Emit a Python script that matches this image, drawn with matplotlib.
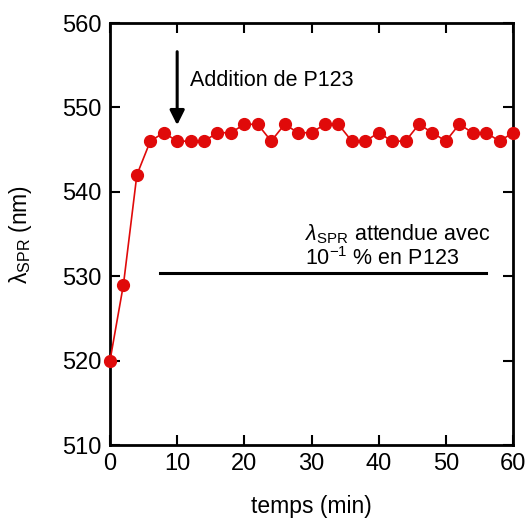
import numpy as np
import matplotlib.pyplot as plt

plt.rcParams['font.family'] = ['Liberation Sans', 'DejaVu Sans']
plt.rcParams['mathtext.fontset'] = 'custom'
plt.rcParams['mathtext.rm'] = 'Liberation Sans'
plt.rcParams['mathtext.it'] = 'Liberation Sans:italic'

temps = np.arange(0, 61, 2)
lambda_spr = [520, 529, 542, 546, 547, 546, 546, 546, 547, 547, 548,
              548, 546, 548, 547, 547, 548, 548, 546, 546, 547, 546,
              546, 548, 547, 546, 548, 547, 547, 546, 547]

ref_x = [7.4, 56]
ref_y = 530.4

fig = plt.figure(figsize=(5.26, 5.19), dpi=100)
ax = fig.add_axes([110 / 526, 1 - 445 / 519, 403 / 526, 422 / 519])

ax.plot(temps, lambda_spr, color='#e00a0a', lw=1.2, marker='o', ms=8.5,
        clip_on=False, zorder=3)
ax.plot(ref_x, [ref_y, ref_y], color='black', lw=2.2)

ax.annotate('', xy=(10, 547.9), xytext=(10, 556.6),
            arrowprops=dict(arrowstyle='-|>', color='black', lw=2.2,
                            mutation_scale=22, shrinkA=0, shrinkB=0))
ax.text(11.9, 553.2, 'Addition de P123', fontsize=15.5, va='center', ha='left')
ax.text(29.0, 535.0, r'$\lambda_{\mathrm{SPR}}$ attendue avec', fontsize=15.5,
        va='center', ha='left')
ax.text(29.0, 532.1, r'10$^{\mathrm{-1}}$ % en P123', fontsize=15.5,
        va='center', ha='left')

ax.set_xlim(0, 60)
ax.set_ylim(510, 560)
ax.set_xticks(range(0, 61, 10))
ax.set_yticks(range(510, 561, 10))
ax.tick_params(direction='in', length=7, width=1.5, top=True, right=True,
               labelsize=17, pad=6)
for s in ax.spines.values():
    s.set_linewidth(2)

ax.set_xlabel('temps (min)', fontsize=16.5, labelpad=14)
ax.set_ylabel(r'λ$_{\mathrm{SPR}}$ (nm)', fontsize=16.5, labelpad=20)

fig.savefig('out.png', dpi=100)
